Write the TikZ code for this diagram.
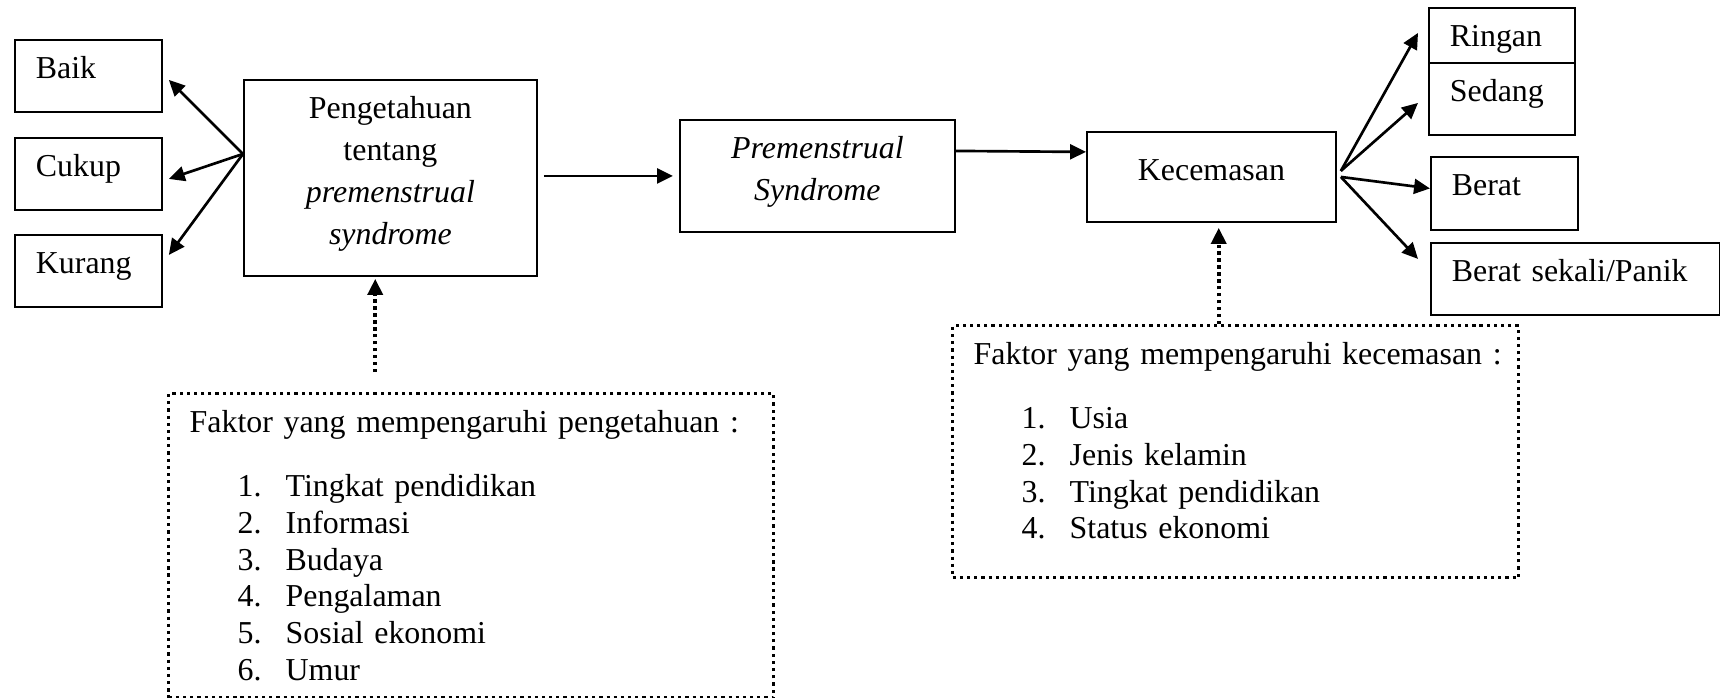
\documentclass[tikz,border=0pt]{standalone}
\usepackage{fontspec}
\setmainfont{Liberation Serif}
\usetikzlibrary{arrows.meta}

\newdimen\px
\px=0.3762pt

\tikzset{
  kotak/.style 2 args={draw, line width=0.7pt, anchor=north west, inner ysep=0pt, inner xsep=21\px,
      text width=#1\px-42\px, align=left, text height=39\px, text depth=#2\px-39\px,
      font=\fontsize{12}{15.7}\selectfont},
  tengah/.style={align=center},
  daftar/.style 2 args={kotak={#1}{#2}, line width=1.3pt, dash pattern=on 1.2pt off 1.5pt,
      font=\fontsize{12}{13.8}\selectfont},
  panah/.style={-{Triangle[length=6pt,width=5.6pt]}, line width=1pt},
  panahtitik/.style={panah, line width=1.4pt, dash pattern=on 1.3pt off 1.3pt},
}

\begin{document}
\begin{tikzpicture}[x=\px, y=-\px]
                  \useasboundingbox (0,0) rectangle (1720,698);

                  % Kaesten links
                  \node[kotak={147}{72}] (baik) at (14,39) {Baik};
                  \node[kotak={147}{72}] (cukup) at (14,137) {Cukup};
                  \node[kotak={147}{72}] (kurang) at (14,234) {Kurang};

                  % Hauptkaesten
                  \node[kotak={293}{196}, tengah] (peng) at (243,79)
                      {Pengetahuan\\tentang\\\textit{premenstrual}\\\textit{syndrome}};
                  \node[kotak={275}{112}, tengah] (pms) at (679,119)
                      {\textit{Premenstrual}\\\textit{Syndrome}};
                  \node[kotak={249}{90}, tengah, text height=49\px, text depth=41\px] (kec) at (1086,131) {Kecemasan};

                  % Kaesten rechts
                  \node[kotak={146}{55}] (ringan) at (1428,7) {Ringan};
                  \node[kotak={146}{72}] (sedang) at (1428,62) {Sedang};
                  \node[kotak={147}{73}] (berat) at (1430,156) {Berat};
                  \node[kotak={289}{72}] (panik) at (1430,242) {Berat sekali/Panik};

                  % Faktoren (gepunktet)
                  \node[daftar={605}{304}] (faktorp) at (167,392) {%
                      \mbox{Faktor yang mempengaruhi pengetahuan :}\\[27.4\px]
                      \hspace*{48\px}\makebox[48\px][l]{1.}Tingkat pendidikan\\
                      \hspace*{48\px}\makebox[48\px][l]{2.}Informasi\\
                      \hspace*{48\px}\makebox[48\px][l]{3.}Budaya\\
                      \hspace*{48\px}\makebox[48\px][l]{4.}Pengalaman\\
                      \hspace*{48\px}\makebox[48\px][l]{5.}Sosial ekonomi\\
                      \hspace*{48\px}\makebox[48\px][l]{6.}Umur};
                  \node[daftar={566}{252}] (faktork) at (951,324) {%
                      \mbox{Faktor yang mempengaruhi kecemasan :}\\[27.4\px]
                      \hspace*{48\px}\makebox[48\px][l]{1.}Usia\\
                      \hspace*{48\px}\makebox[48\px][l]{2.}Jenis kelamin\\
                      \hspace*{48\px}\makebox[48\px][l]{3.}Tingkat pendidikan\\
                      \hspace*{48\px}\makebox[48\px][l]{4.}Status ekonomi};

                  % Pfeile links
                  \coordinate (pk) at ([shift={(0,-24)}]peng.west);
                  \draw[panah] (pk) -- ([shift={(6,4)}]baik.east);
                  \draw[panah] (pk) -- ([shift={(6,5)}]cukup.east);
                  \draw[panah] (pk) -- ([shift={(6,-16)}]kurang.east);

                  % Hauptpfeile
                  \draw[panah, shorten <=6\px, shorten >=6\px] (peng.east |- pms.west) -- (pms.west);
                  \draw[panah] ([shift={(0,-25)}]pms.east) -- ([shift={(0,-25)}]kec.west);

                  % Pfeile rechts
                  \coordinate (kk) at ([shift={(4,-6)}]kec.east);
                  \coordinate (kb) at ([shift={(4,0)}]kec.east);
                  \draw[panah] (kk) -- ([shift={(-10,-2.5)}]ringan.west);
                  \draw[panah] (kk) -- ([shift={(-10,4)}]sedang.west);
                  \draw[panah] (kb) -- ([shift={(0,-5)}]berat.west);
                  \draw[panah] (kb) -- ([shift={(-12,-20)}]panik.west);

                  % gepunktete Pfeile
                  \coordinate (fp) at ([shift={(-96,-20)}]faktorp.north);
                  \draw[panahtitik, shorten >=2\px] (fp) -- (fp |- peng.south);
                  \coordinate (fk) at ([shift={(-17,0)}]faktork.north);
                  \draw[panahtitik, shorten >=5\px] (fk) -- (fk |- kec.south);
              \end{tikzpicture}
\end{document}
